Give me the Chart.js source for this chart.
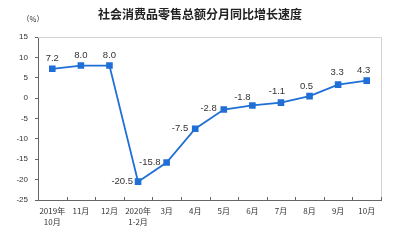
<!DOCTYPE html>
<html lang="zh">
<head>
  <meta charset="UTF-8">
  <title>社会消费品零售总额分月同比增长速度</title>
  <script src="https://cdn.jsdelivr.net/npm/chart.js"></script>
  <style>
    html, body { margin: 0; padding: 0; background: #fff; }
    #wrap { width: 400px; height: 240px; }
  </style>
</head>
<body>
  <div id="wrap"><canvas id="retailChart" width="400" height="240"></canvas></div>

  <script>
    // data
    const chartTitle = '社会消费品零售总额分月同比增长速度';
    const months = [['2019年', '10月'], '11月', '12月', ['2020年', '1-2月'], '3月', '4月',
      '5月', '6月', '7月', '8月', '9月', '10月'];
    const growth = [7.2, 8.0, 8.0, -20.5, -15.8, -7.5, -2.8, -1.8, -1.1, 0.5, 3.3, 4.3];
    const yMin = -25, yMax = 15, yStep = 5;

    // where each value label sits relative to its point
    const labelPlace = [
      { align: 'center', dx: 0, dy: -10 },
      { align: 'center', dx: 0, dy: -10 },
      { align: 'center', dx: 0, dy: -10 },
      { align: 'right', dx: -5, dy: 0 },
      { align: 'right', dx: -6, dy: 0 },
      { align: 'right', dx: -7, dy: 0 },
      { align: 'right', dx: -7, dy: -1 },
      { align: 'center', dx: -10, dy: -8 },
      { align: 'center', dx: -4, dy: -11 },
      { align: 'center', dx: -3, dy: -10 },
      { align: 'center', dx: -1, dy: -12 },
      { align: 'center', dx: -3, dy: -10 }
    ];

    const cjk = '"Noto Sans CJK SC", "Noto Sans", sans-serif';
    const latin = '"Liberation Sans", Arial, sans-serif';

    // value labels above / beside the points
    const valueLabels = {
      id: 'valueLabels',
      afterDatasetsDraw(chart) {
        const ctx = chart.ctx;
        const meta = chart.getDatasetMeta(0);
        ctx.save();
        ctx.font = '9.5px ' + latin;
        ctx.fillStyle = '#333';
        ctx.textBaseline = 'middle';
        meta.data.forEach((pt, i) => {
          const p = labelPlace[i];
          ctx.textAlign = p.align;
          ctx.fillText(growth[i].toFixed(1), pt.x + p.dx, pt.y + p.dy);
        });
        ctx.restore();
      }
    };

    // title, unit label, light frame on top/right, inward tick marks on x axis
    const frame = {
      id: 'frame',
      afterDraw(chart) {
        const ctx = chart.ctx;
        const a = chart.chartArea;
        ctx.save();
        ctx.strokeStyle = '#d4d4d4';
        ctx.lineWidth = 1;
        ctx.beginPath();
        ctx.moveTo(a.left, a.top + 0.5);
        ctx.lineTo(a.right + 0.5, a.top + 0.5);
        ctx.lineTo(a.right + 0.5, a.bottom);
        ctx.stroke();

        const n = months.length;
        const w = (a.right - a.left) / n;
        ctx.strokeStyle = '#666';
        ctx.beginPath();
        for (let i = 1; i <= n; i++) {
          const x = Math.round(a.left + i * w) + 0.5;
          ctx.moveTo(x, a.bottom);
          ctx.lineTo(x, a.bottom - 3);
        }
        ctx.stroke();

        ctx.fillStyle = '#222';
        ctx.textAlign = 'center';
        ctx.textBaseline = 'middle';
        ctx.font = 'bold 12px ' + cjk;
        ctx.fillText(chartTitle, chart.width / 2, 14);

        ctx.font = '7.5px ' + cjk;
        ctx.fillStyle = '#333';
        ctx.fillText('（%）', a.left - 5, 19);
        ctx.restore();
      }
    };

    new Chart(document.getElementById('retailChart'), {
      type: 'line',
      data: {
        labels: months,
        datasets: [{
          data: growth,
          borderColor: '#1f6fd6',
          backgroundColor: '#1f6fd6',
          borderWidth: 1.8,
          pointStyle: 'rect',
          pointRadius: 3.4,
          pointHoverRadius: 3.4,
          tension: 0
        }]
      },
      options: {
        responsive: false,
        animation: false,
        layout: { padding: { top: 37, right: 19, bottom: 0, left: 0 } },
        plugins: {
          legend: { display: false },
          tooltip: { enabled: false },
          title: { display: false }
        },
        scales: {
          x: {
            offset: true,
            grid: { display: true, drawOnChartArea: false, drawTicks: false },
            border: { color: '#666' },
            ticks: {
              color: '#333',
              font: { family: cjk, size: 8, lineHeight: 1.35 },
              padding: 6,
              maxRotation: 0,
              autoSkip: false
            },
            afterFit(scale) { scale.height = 40; }
          },
          y: {
            min: yMin,
            max: yMax,
            grid: { drawOnChartArea: false, drawTicks: true, tickLength: 3, color: '#666' },
            border: { color: '#666' },
            ticks: {
              stepSize: yStep,
              color: '#333',
              font: { family: latin, size: 8 },
              padding: 7
            },
            afterFit(scale) { scale.width = 38; }
          }
        }
      },
      plugins: [valueLabels, frame]
    });
  </script>
</body>
</html>
